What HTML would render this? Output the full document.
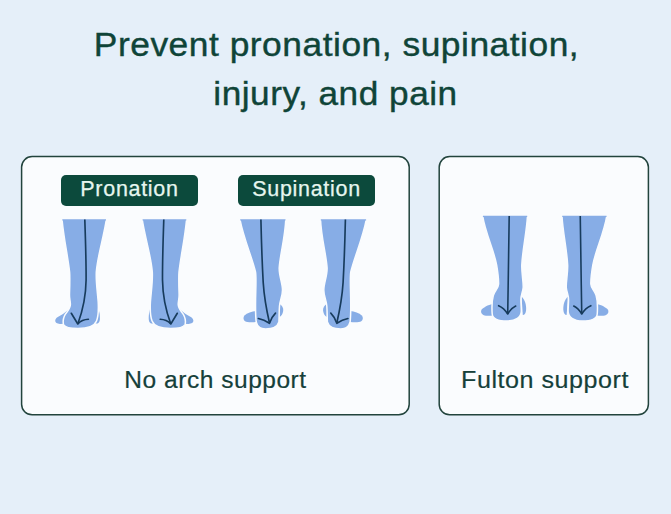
<!DOCTYPE html>
<html>
<head>
<meta charset="utf-8">
<style>
html,body{margin:0;padding:0;}
body{width:671px;height:514px;background:#e5eff9;position:relative;overflow:hidden;font-family:"Liberation Sans",sans-serif;}
.t{position:absolute;left:0;width:671px;text-align:center;color:#0f4438;white-space:nowrap;-webkit-text-stroke:0.4px #0f4438;}
.box{position:absolute;box-sizing:border-box;border:2px solid #2a4540;border-radius:11px;background:#f9fbfd;}
.lab{position:absolute;box-sizing:border-box;background:#0c4a3c;border-radius:5px;color:#e6f6ef;text-align:center;white-space:nowrap;-webkit-text-stroke:0.25px #e6f6ef;}
.cap{position:absolute;color:#15403a;white-space:nowrap;text-align:center;-webkit-text-stroke:0.2px #15403a;}
svg{position:absolute;left:0;top:0;}
</style>
</head>
<body>
<div class="t" id="l1" style="left:1px;top:24px;font-size:34px;line-height:40px;letter-spacing:0.5px;transform:scaleX(1.04);">Prevent pronation, supination,</div>
<div class="t" id="l2" style="top:73px;font-size:34px;line-height:40px;letter-spacing:0.5px;transform:scaleX(1.035);">injury, and pain</div>

<svg width="671" height="514" style="position:absolute;left:0;top:0"><rect x="21.6" y="156.6" width="387.6" height="258.2" rx="10.5" fill="#fafcfe" stroke="#22443d" stroke-width="1.5"/><rect x="439.2" y="156.6" width="209.2" height="258.2" rx="10.5" fill="#fafcfe" stroke="#22443d" stroke-width="1.5"/></svg>

<div class="lab" id="p1" style="left:61px;top:175px;width:137px;height:31px;font-size:21.5px;line-height:28.5px;letter-spacing:0.7px;">Pronation</div>
<div class="lab" id="p2" style="left:238px;top:175px;width:137px;height:31px;font-size:21.5px;line-height:28.5px;letter-spacing:0.7px;">Supination</div>

<div class="cap" id="c1" style="left:21px;width:389px;top:367px;font-size:23px;line-height:26px;letter-spacing:0.5px;transform:scaleX(1.065);">No arch support</div>
<div class="cap" id="c2" style="left:440px;width:210px;top:367px;font-size:23px;line-height:26px;letter-spacing:0.5px;transform:scaleX(1.09);">Fulton support</div>

<svg width="671" height="514" viewBox="0 0 671 514">
<defs>
<g id="f1">
  <path d="M71,307 C68,310 64,314 60,315.8 C57.5,317 55.2,318.5 55.2,320.8 C55.2,322.8 57,323.7 60,323.9 L70,323.5 Z" fill="#87ade6"/>
  <path d="M96,304 C99,308 100.3,315 99.8,320 C99.3,323 97.5,324 95.5,323.5 Z" fill="#87ade6"/>
  <path d="M62,219.2 L106.4,219.2 C104,236 97.5,256 96.3,272 C95.8,282 97.5,292 98.2,302 C98.6,310 97.8,318 96.5,321 C94.5,326 88,328.5 78,328.5 C70,328.5 65,327.5 63.5,324.5 C62.5,320 64.5,315 67,312 C68.5,310 70.5,307 70.4,304 C70.2,300 69.3,298 69.5,294 C69.8,285 70,277 69.6,272 C67.8,256 64,240 62,219.2 Z" fill="#87ade6" stroke="#fafcfe" stroke-width="1.5"/>
  <path d="M62.3,219.9 L106,219.9" stroke="#87ade6" stroke-width="1.3"/>
  <path d="M84.8,219.5 C85.5,240 86.2,260 86.1,280 C85.9,295 83,310 77.8,324" fill="none" stroke="#173b5c" stroke-width="1.65"/>
  <path d="M71.3,313.3 L77.8,324 Q82,319.5 88.4,319.3" fill="none" stroke="#173b5c" stroke-width="1.65" stroke-linecap="round" stroke-linejoin="round"/>
</g>
<g id="f3">
  <path d="M256,311 C252,311.5 247,313 244.5,315.5 C242.5,318 243.5,321.5 247.5,322 C250,322.3 253,322.2 256,322 Z" fill="#87ade6"/>
  <path d="M279,303.5 C282,305 283.7,308 283.2,311 C282.7,314 281.5,316 279.5,317 Z" fill="#87ade6"/>
  <path d="M239.9,219.2 L285.8,219.2 C285,238 280,255 279.2,268 C279,276 282.5,283 282.5,290 C282.5,296 280,300 279.5,306 C279,312 279.2,318 278.9,322 C277.5,327 272,329 265.5,329 C260,329 257.2,326 256.2,322 C255.5,316 255.5,300 255.8,290 C256,282 256.2,276 255.5,272 C252,257 244,240 239.9,219.2 Z" fill="#87ade6" stroke="#fafcfe" stroke-width="1.5"/>
  <path d="M240.2,219.8 L285.5,219.8" stroke="#87ade6" stroke-width="1.3"/>
  <path d="M260.9,219.5 C261.5,245 262.5,270 263.2,282.4 C264,295 266.5,310 269.5,323" fill="none" stroke="#173b5c" stroke-width="1.65"/>
  <path d="M258.4,318.5 Q264,319.5 269.5,323.3 Q271.5,317 275.5,313.1" fill="none" stroke="#173b5c" stroke-width="1.65" stroke-linecap="round" stroke-linejoin="round"/>
</g>
<g id="f5">
  <path d="M492.5,304 C488,305 483.5,307.3 481.5,309.8 C480.2,312.5 481.8,315.4 486,315.7 C489,315.9 491,315.7 493.5,315.2 Z" fill="#87ade6"/>
  <path d="M521.5,296.5 C524.8,299.5 526.5,305 526.1,310 C525.7,313.5 524.7,315 522.8,315 Z" fill="#87ade6"/>
  <path d="M482.6,215.7 L527.5,215.7 C526.5,233 522.5,250 521.8,265 C521.5,273 523.5,282 523.2,287.5 C522.8,292 520.9,295 520.9,299.5 C520.9,304 521.4,308 521.3,311.5 C521,317 516,321 507,321 C498,321 492.6,318.5 492.2,314 C491.8,308 492,300 493.3,295.5 C494.6,291 498.5,288.5 498.6,284 C498.7,279 497.8,272 496.6,265 C494,250 485.5,234 482.6,215.7 Z" fill="#87ade6" stroke="#fafcfe" stroke-width="1.5"/>
  <path d="M482.9,216.3 L527.2,216.3" stroke="#87ade6" stroke-width="1.3"/>
  <path d="M509.2,216 C508.8,240 508.3,280 507.7,314" fill="none" stroke="#173b5c" stroke-width="1.6"/>
  <path d="M498.6,305.7 Q504,308 507.7,314 Q511.5,308 515.7,306.1" fill="none" stroke="#173b5c" stroke-width="1.6" stroke-linecap="round" stroke-linejoin="round"/>
</g>
</defs>
<use href="#f1"/>
<use href="#f1" transform="translate(248.6,0) scale(-1,1)"/>
<use href="#f3"/>
<use href="#f3" transform="translate(606.3,0) scale(-1,1)"/>
<use href="#f5"/>
<use href="#f5" transform="translate(1089.45,0) scale(-1,1)"/>
</svg>
</body>
</html>
